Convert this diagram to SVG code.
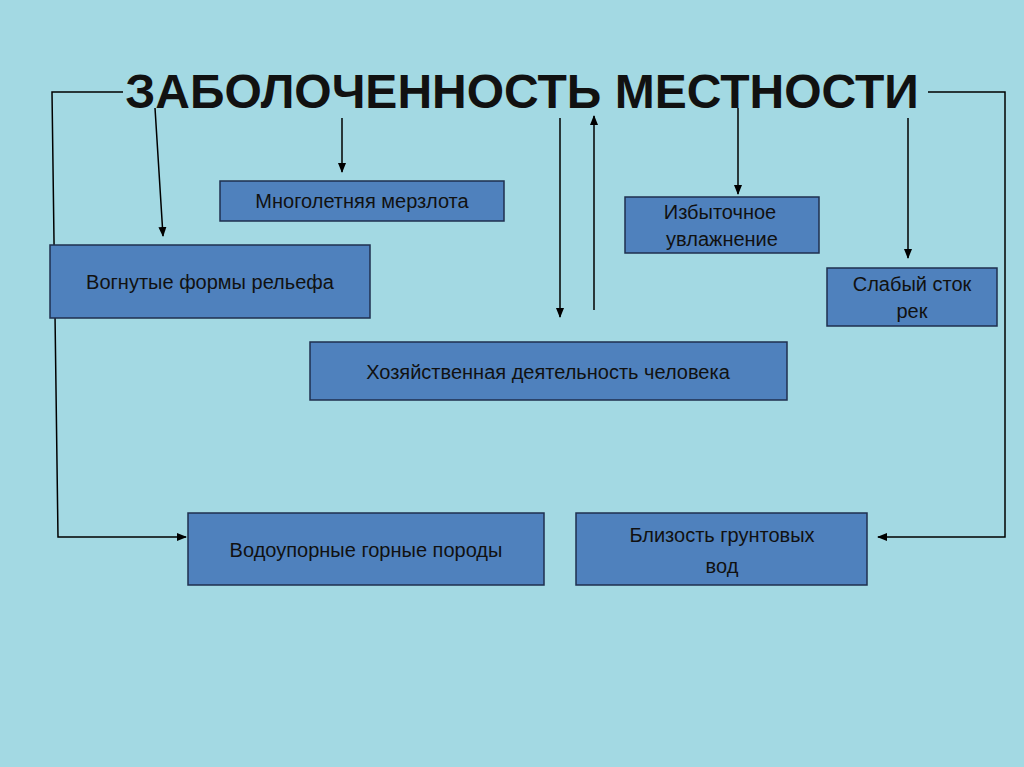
<svg xmlns="http://www.w3.org/2000/svg" width="1024" height="767" viewBox="0 0 1024 767">
<style>
.box{fill:#4f81bd;stroke:#1f2f4f;stroke-width:1.5}
.t{font-family:"Liberation Sans",Arial,sans-serif;font-size:20px;fill:#111;text-anchor:middle}
.c{fill:none;stroke:#000;stroke-width:1.5}
</style>
<defs><marker id="a" markerWidth="10" markerHeight="10" refX="9" refY="5" orient="auto" markerUnits="userSpaceOnUse"><path d="M0,1 L10,5 L0,9 z" fill="#000"/></marker></defs>
<rect width="1024" height="767" fill="#a3d9e3"/>
<text x="522" y="108" font-family="Liberation Sans,Arial,sans-serif" font-weight="bold" font-size="48" text-anchor="middle" fill="#111">ЗАБОЛОЧЕННОСТЬ МЕСТНОСТИ</text>
<g id="connectors">
<polyline class="c" points="123,92 52,92 58,537 186,537" marker-end="url(#a)"/>
<polyline class="c" points="928,92 1005,92 1005,537 878,537" marker-end="url(#a)"/>
<line class="c" x1="155" y1="108" x2="163" y2="236" marker-end="url(#a)"/>
<line class="c" x1="342" y1="118" x2="342" y2="172" marker-end="url(#a)"/>
<line class="c" x1="560" y1="118" x2="560" y2="317" marker-end="url(#a)"/>
<line class="c" x1="594" y1="310" x2="594" y2="116" marker-end="url(#a)"/>
<line class="c" x1="738" y1="108" x2="738" y2="194" marker-end="url(#a)"/>
<line class="c" x1="908" y1="118" x2="908" y2="258" marker-end="url(#a)"/>
</g>
<g id="n1"><rect class="box" x="220" y="181" width="284" height="40"/><text class="t" x="362" y="208">Многолетняя мерзлота</text></g>
<g id="n2"><rect class="box" x="625" y="197" width="194" height="56"/><text class="t" x="720" y="219">Избыточное</text><text class="t" x="722" y="246">увлажнение</text></g>
<g id="n3"><rect class="box" x="50" y="245" width="320" height="73"/><text class="t" x="210" y="289">Вогнутые формы рельефа</text></g>
<g id="n4"><rect class="box" x="827" y="268" width="170" height="58"/><text class="t" x="912" y="291">Слабый сток</text><text class="t" x="912" y="318">рек</text></g>
<g id="n5"><rect class="box" x="310" y="342" width="477" height="58"/><text class="t" x="548" y="379">Хозяйственная деятельность человека</text></g>
<g id="n6"><rect class="box" x="188" y="513" width="356" height="72"/><text class="t" x="366" y="557">Водоупорные горные породы</text></g>
<g id="n7"><rect class="box" x="576" y="513" width="291" height="72"/><text class="t" x="722" y="542">Близость грунтовых</text><text class="t" x="722" y="573">вод</text></g>
</svg>
